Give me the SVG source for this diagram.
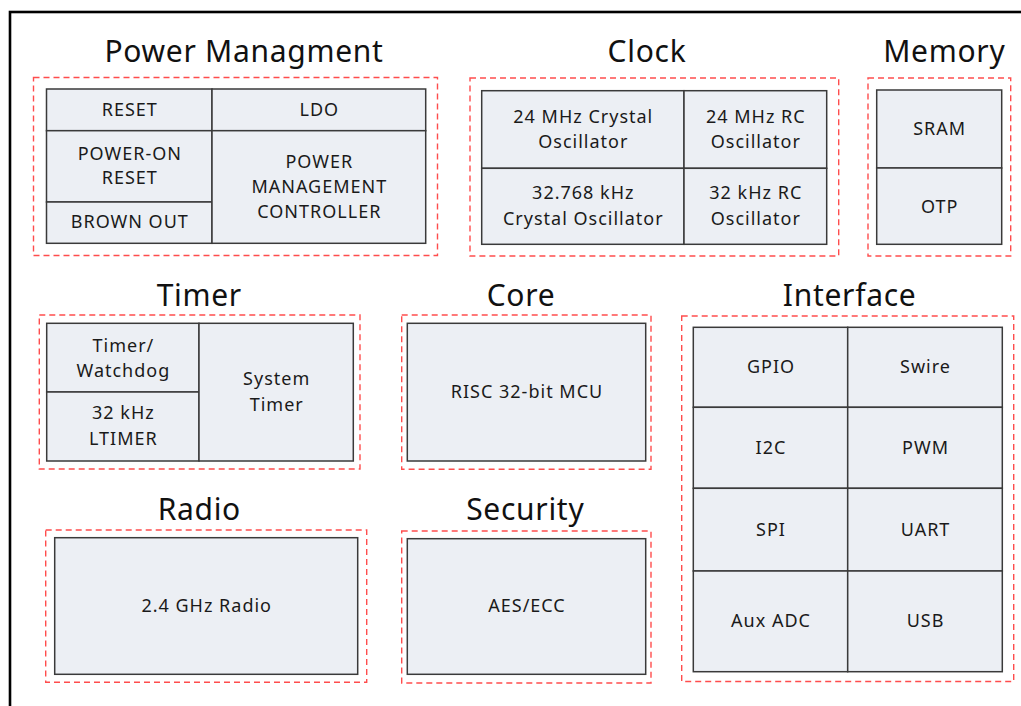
<svg xmlns="http://www.w3.org/2000/svg" width="1021" height="706" viewBox="0 0 1021 706">
<style>
.frame{fill:none;stroke:#000;stroke-width:2.6}
.dash{fill:none;stroke:#ff4d4d;stroke-width:1.4;stroke-dasharray:6 4}
.cell{fill:#eceff4;stroke:#3a3a3a;stroke-width:1.5}
.t{font-family:"Noto Sans","Open Sans",sans-serif;font-size:18px;letter-spacing:1px;fill:#1a1a1a;text-anchor:middle}
.h{font-family:"Noto Sans","Open Sans",sans-serif;font-size:30px;letter-spacing:0.7px;fill:#111;text-anchor:middle}
</style>
<rect width="1021" height="706" fill="#fff"/>
<rect class="frame" x="10" y="12" width="1030" height="720"/>

<g id="power">
<text class="h" x="244" y="62">Power Managment</text>
<rect class="dash" x="33.5" y="77.5" width="404" height="178"/>
<rect class="cell" x="46.5" y="89" width="165.5" height="41.7"/>
<rect class="cell" x="46.5" y="130.7" width="165.5" height="71.3"/>
<rect class="cell" x="46.5" y="202" width="165.5" height="41.3"/>
<rect class="cell" x="212" y="89" width="213.7" height="41.7"/>
<rect class="cell" x="212" y="130.7" width="213.7" height="112.6"/>
<text class="t" x="129.8" y="115.7">RESET</text>
<text class="t" x="319.3" y="115.7">LDO</text>
<text class="t" x="129.8" y="160">POWER-ON</text>
<text class="t" x="129.8" y="184.3">RESET</text>
<text class="t" x="129.8" y="228.3">BROWN OUT</text>
<text class="t" x="319.3" y="167.7">POWER</text>
<text class="t" x="319.3" y="193">MANAGEMENT</text>
<text class="t" x="319.3" y="218.3">CONTROLLER</text>
</g>

<g id="clock">
<text class="h" x="647" y="62">Clock</text>
<rect class="dash" x="470" y="78" width="368.7" height="178"/>
<rect class="cell" x="481.7" y="90.7" width="202.3" height="77.6"/>
<rect class="cell" x="684" y="90.7" width="142.7" height="77.6"/>
<rect class="cell" x="481.7" y="168.3" width="202.3" height="76"/>
<rect class="cell" x="684" y="168.3" width="142.7" height="76"/>
<text class="t" x="583.3" y="122.7">24 MHz Crystal</text>
<text class="t" x="583.3" y="148.3">Oscillator</text>
<text class="t" x="755.8" y="122.7">24 MHz RC</text>
<text class="t" x="755.8" y="148.3">Oscillator</text>
<text class="t" x="583.3" y="199.3">32.768 kHz</text>
<text class="t" x="583.3" y="225">Crystal Oscillator</text>
<text class="t" x="755.8" y="199.3">32 kHz RC</text>
<text class="t" x="755.8" y="225">Oscillator</text>
</g>

<g id="memory">
<text class="h" x="944.3" y="62">Memory</text>
<rect class="dash" x="868" y="78" width="142.7" height="178"/>
<rect class="cell" x="876.7" y="90" width="125" height="78"/>
<rect class="cell" x="876.7" y="168" width="125" height="76.3"/>
<text class="t" x="939.7" y="135">SRAM</text>
<text class="t" x="939.7" y="213.3">OTP</text>
</g>

<g id="timer">
<text class="h" x="199.3" y="305.7">Timer</text>
<rect class="dash" x="39.3" y="315" width="320.7" height="154"/>
<rect class="cell" x="46.7" y="323.3" width="152.3" height="68.7"/>
<rect class="cell" x="46.7" y="392" width="152.3" height="69"/>
<rect class="cell" x="199" y="323.3" width="154.3" height="137.7"/>
<text class="t" x="123.4" y="351.7">Timer/</text>
<text class="t" x="123.4" y="376.7">Watchdog</text>
<text class="t" x="123.4" y="419.3">32 kHz</text>
<text class="t" x="123.4" y="445">LTIMER</text>
<text class="t" x="276.7" y="385">System</text>
<text class="t" x="276.7" y="410.7">Timer</text>
</g>

<g id="core">
<text class="h" x="521" y="305.7">Core</text>
<rect class="dash" x="401.7" y="315" width="249.3" height="154.3"/>
<rect class="cell" x="407.3" y="323.3" width="238.4" height="137.7"/>
<text class="t" x="527" y="398.3">RISC 32-bit MCU</text>
</g>

<g id="interface">
<text class="h" x="849.6" y="305.7">Interface</text>
<rect class="dash" x="681.7" y="316" width="332" height="365.5"/>
<rect class="cell" x="693.3" y="327.3" width="154.4" height="80"/>
<rect class="cell" x="847.7" y="327.3" width="154.6" height="80"/>
<rect class="cell" x="693.3" y="407.3" width="154.4" height="81"/>
<rect class="cell" x="847.7" y="407.3" width="154.6" height="81"/>
<rect class="cell" x="693.3" y="488.3" width="154.4" height="82.7"/>
<rect class="cell" x="847.7" y="488.3" width="154.6" height="82.7"/>
<rect class="cell" x="693.3" y="571" width="154.4" height="100.7"/>
<rect class="cell" x="847.7" y="571" width="154.6" height="100.7"/>
<text class="t" x="771" y="373.3">GPIO</text>
<text class="t" x="925.5" y="373.3">Swire</text>
<text class="t" x="771" y="454.3">I2C</text>
<text class="t" x="925.5" y="454.3">PWM</text>
<text class="t" x="771" y="536">SPI</text>
<text class="t" x="925.5" y="536">UART</text>
<text class="t" x="771" y="627.3">Aux ADC</text>
<text class="t" x="925.5" y="627.3">USB</text>
</g>

<g id="radio">
<text class="h" x="199.3" y="520">Radio</text>
<rect class="dash" x="45.7" y="530" width="321" height="152.3"/>
<rect class="cell" x="54.7" y="537.7" width="303" height="136.6"/>
<text class="t" x="206.7" y="611.7">2.4 GHz Radio</text>
</g>

<g id="security">
<text class="h" x="525.3" y="520">Security</text>
<rect class="dash" x="401.7" y="531" width="249.3" height="152"/>
<rect class="cell" x="407.3" y="538.7" width="238.4" height="135.6"/>
<text class="t" x="527" y="611.7">AES/ECC</text>
</g>

<g id="connectors"></g>
</svg>
